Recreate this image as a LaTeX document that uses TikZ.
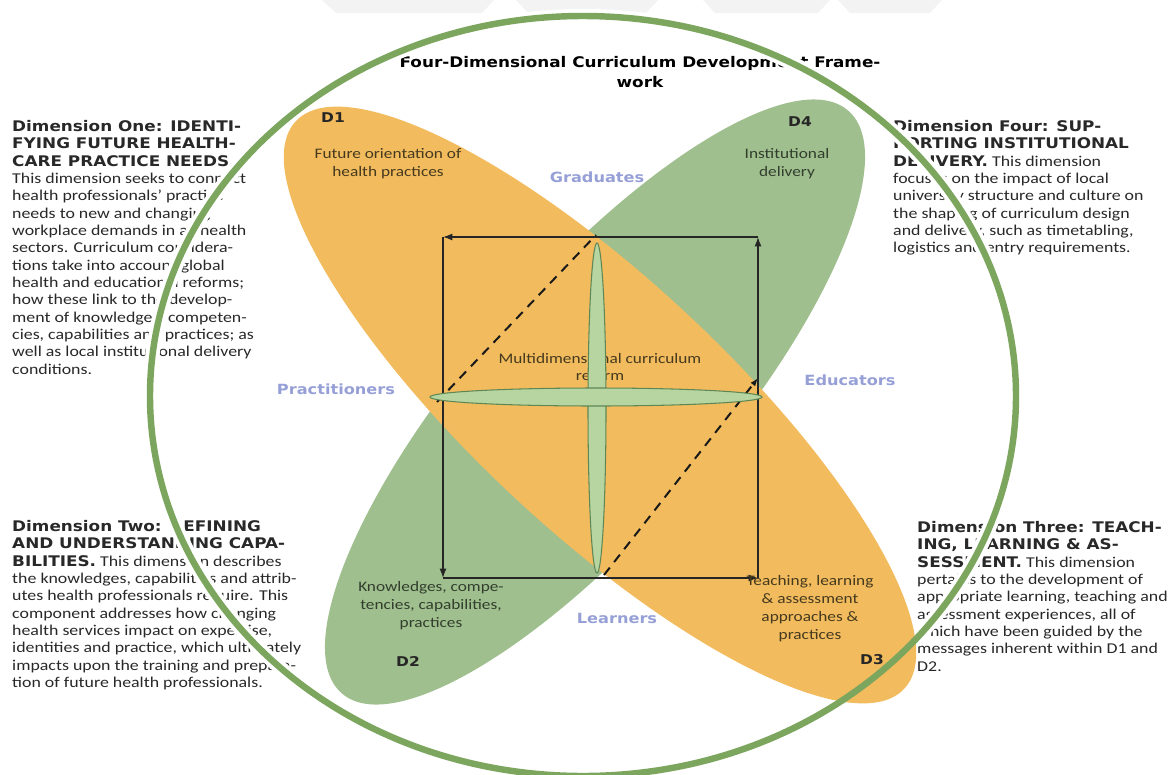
\documentclass[tikz,border=0pt]{standalone}
\usepackage{fontspec}
\setmainfont{Carlito}[FakeStretch=1.19]
\newfontfamily\heavy{DejaVu Sans}[FakeStretch=1.15]
\usetikzlibrary{arrows.meta}
\definecolor{orangeP}{RGB}{241,187,94}
\definecolor{greenP}{RGB}{160,191,142}
\definecolor{ringG}{RGB}{124,166,94}
\definecolor{crossF}{RGB}{182,213,160}
\definecolor{crossD}{RGB}{95,135,85}
\definecolor{labB}{RGB}{150,160,215}
\definecolor{bodyT}{RGB}{40,40,40}
\definecolor{petT}{RGB}{70,58,30}
\definecolor{petG}{RGB}{50,62,45}
\definecolor{faintG}{RGB}{243,243,243}
\newcommand\dimhead[1]{{\heavy\bfseries\fontsize{12.5}{14.8}\selectfont #1}}
\begin{document}
\begin{tikzpicture}[x=0.03cm,y=-0.03cm,
  body/.style={anchor=north west,align=left,inner sep=0pt,text=bodyT,
    font=\fontsize{12.8}{14.8}\selectfont},
  pettext/.style={align=center,inner sep=0pt,text=petT,
    font=\fontsize{12.4}{15.3}\selectfont},
  dlab/.style={inner sep=0pt,text=black!85,font=\heavy\bfseries\fontsize{11.5}{12}\selectfont},
  rolelab/.style={inner sep=0pt,text=labB,font=\heavy\bfseries\fontsize{12}{13}\selectfont},
  sqarrow/.style={line width=1.1pt,draw=black!85,-{Latex[length=8pt,width=6pt]}},
  dashline/.style={line width=1.7pt,draw=black!90,dash pattern=on 8pt off 6pt},
  thin/.style={fill=crossF,draw=crossD,line width=0.9pt},
  faint/.style={fill=faintG}]
\useasboundingbox (0,0) rectangle (1173,774);
% faint marks along the top edge
\fill[faint] (322,0) -- (494,0) -- (482,13) -- (336,13) -- cycle;
\fill[faint] (516,0) -- (658,0) -- (646,13) -- (528,13) -- cycle;
\fill[faint] (703,0) -- (830,0) -- (818,13) -- (715,13) -- cycle;
\fill[faint] (838,0) -- (942,0) -- (930,13) -- (850,13) -- cycle;
% title
\node[inner sep=0pt,align=center,font=\heavy\bfseries\fontsize{12.5}{17}\selectfont] (title) at (640,72)
  {Four-Dimensional Curriculum Development Frame-\\work};
% outside text blocks
\node[body] (txtone) at (12,120) {\dimhead{Dimension One: IDENTI-}\\
\dimhead{FYING FUTURE HEALTH-}\\
\dimhead{CARE PRACTICE NEEDS.}\\
This dimension seeks to connect\\
health professionals' practice\\
needs to new and changing\\
workplace demands in all health\\
sectors. Curriculum considera-\\
tions take into account global\\
health and educational reforms;\\
how these link to the develop-\\
ment of knowledges, competen-\\
cies, capabilities and practices; as\\
well as local institutional delivery\\
conditions.};
\node[body] (txttwo) at (12,520) {\dimhead{Dimension Two: DEFINING}\\
\dimhead{AND UNDERSTANDING CAPA-}\\
\dimhead{BILITIES.} This dimension describes\\
the knowledges, capabilities and attrib-\\
utes health professionals require. This\\
component addresses how changing\\
health services impact on expertise,\\
identities and practice, which ultimately\\
impacts upon the training and prepara-\\
tion of future health professionals.};
\node[body] (txtfour) at (893,120) {\dimhead{Dimension Four: SUP-}\\
\dimhead{PORTING INSTITUTIONAL}\\
\dimhead{DELIVERY.} This dimension\\
focuses on the impact of local\\
university structure and culture on\\
the shaping of curriculum design\\
and delivery, such as timetabling,\\
logistics and entry requirements.};
\node[body] (txtthree) at (917,521) {\dimhead{Dimension Three: TEACH-}\\
\dimhead{ING, LEARNING \& AS-}\\
\dimhead{SESSMENT.} This dimension\\
pertains to the development of\\
appropriate learning, teaching and\\
assessment experiences, all of\\
which have been guided by the\\
messages inherent within D1 and\\
D2.};
% white halo of the ring
\draw[white,line width=12pt] (583,396) ellipse [x radius=433,y radius=380];
% petals
\fill[greenP,rotate around={49:(595,402)}] (595,402) ellipse [x radius=386,y radius=124];
\fill[orangeP,rotate around={-43:(600,405)}] (600,405) ellipse [x radius=416,y radius=126];
% square of arrows
\coordinate (sqTL) at (443,237);
\coordinate (sqTR) at (758,237);
\coordinate (sqBL) at (443,578);
\coordinate (sqBR) at (758,578);
\draw[sqarrow] (sqTR) -- (sqTL);
\draw[sqarrow] (sqTL) -- (sqBL);
\draw[sqarrow] (sqBL) -- (sqBR);
\draw[sqarrow] (sqBR) -- (sqTR);
% dashed diagonals
\coordinate (dAa) at (437,402);
\coordinate (dAb) at (596,235);
\coordinate (dBa) at (604,575);
\coordinate (dBb) at (758,378);
\draw[dashline] (dAa) -- (dAb);
\draw[dashline,-{Latex[length=7pt,width=5pt]}] (dBa) -- (dBb);
% petal texts
\node[dlab] (done) at (333,118) {D1};
\node[dlab] (dfour) at (800,122) {D4};
\node[dlab] (dtwo) at (408,661) {D2};
\node[dlab] (dthree) at (872,660) {D3};
\node[pettext] (ptone) at (388,164) {Future orientation of\\health practices};
\node[pettext,text=petG] (ptfour) at (787,164) {Institutional\\delivery};
\node[pettext,text=petG] (pttwo) at (431,606) {Knowledges, compe-\\tencies, capabilities,\\practices};
\node[pettext] (ptthree) at (810,609) {Teaching, learning\\\& assessment\\approaches \&\\practices};
\node[pettext] (ptcentre) at (600,367) {Multidimensional curriculum\\reform};
% thin cross
\fill[thin] (597,408) ellipse [x radius=9,y radius=165];
\fill[thin] (596,397) ellipse [x radius=166,y radius=9];
% role labels
\node[rolelab] (grad) at (597,177) {Graduates};
\node[rolelab] (prac) at (336,389) {Practitioners};
\node[rolelab] (educ) at (850,380) {Educators};
\node[rolelab] (learn) at (617,618) {Learners};
% ring
\draw[ringG,line width=5.5pt] (583,396) ellipse [x radius=433,y radius=380];
\end{tikzpicture}
\end{document}
